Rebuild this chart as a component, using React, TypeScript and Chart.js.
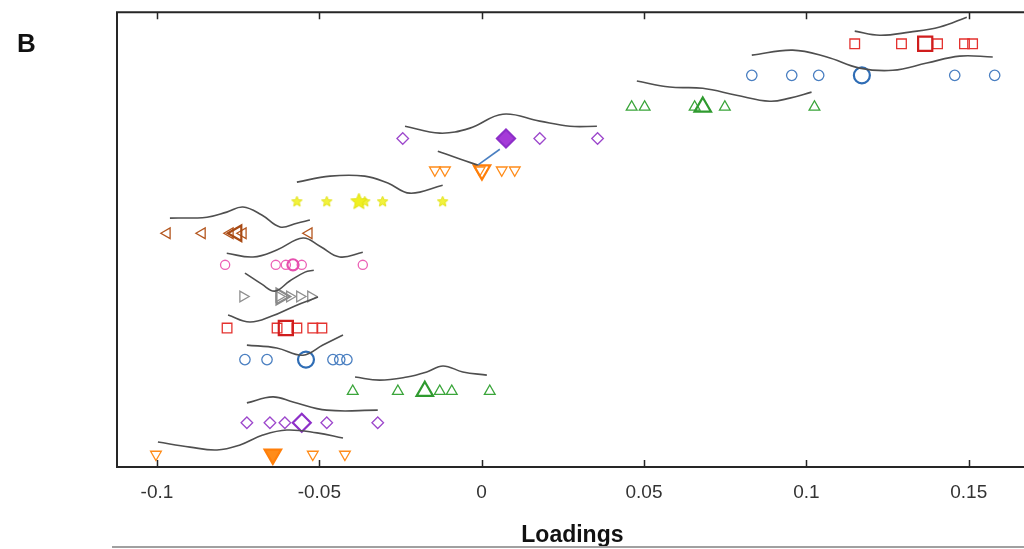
import React, { useEffect, useRef } from "react";
import { Chart, registerables } from "chart.js";

Chart.register(...registerables);

// ---------- axis / labels ----------
const xTicks = [-0.1, -0.05, 0, 0.05, 0.1, 0.15];
const xTickLabels = ["-0.1", "-0.05", "0", "0.05", "0.1", "0.15"];
const xTitle = "Loadings";
const panelLabel = "B";
const xMin = -0.1123;
const xMax = 0.1682;

// ---------- row positions (1 = top row) ----------
const rowPos = [1, 2, 3, 4, 5, 6, 7, 8, 9, 10, 11, 12, 13, 14];

// ---------- individual loadings per row ----------
const r1 = [0.1149, 0.1293, 0.1404, 0.1487, 0.1512];
const r2 = [0.0832, 0.0955, 0.1038, 0.1457, 0.158];
const r3 = [0.0462, 0.0502, 0.0656, 0.0749, 0.1025];
const r4 = [-0.0243, 0.0065, 0.0179, 0.0357];
const r5 = [-0.0144, -0.0113, -0.0006, 0.0062, 0.0102];
const r6 = [-0.0569, -0.0477, -0.036, -0.0305, -0.012];
const r7 = [-0.0969, -0.0861, -0.0775, -0.0735, -0.0532];
const r8 = [-0.079, -0.0634, -0.0603, -0.0554, -0.0366];
const r9 = [-0.0735, -0.0624, -0.0591, -0.056, -0.0526];
const r10 = [-0.0784, -0.063, -0.0569, -0.052, -0.0492];
const r11 = [-0.0729, -0.0661, -0.0458, -0.0437, -0.0415];
const r12 = [-0.0397, -0.0258, -0.0129, -0.0092, 0.0025];
const r13 = [-0.0723, -0.0652, -0.0606, -0.0477, -0.032];
const r14 = [-0.1003, -0.0643, -0.052, -0.0421];

// ---------- mean loading per row (large marker) ----------
const means = [0.1366, 0.1171, 0.0681, 0.0075, 0.0001, -0.0378, -0.0754, -0.0581, -0.0618, -0.0603, -0.0541, -0.0175, -0.0554, -0.0643];

// ---------- gray curves: [loading, row coordinate] ----------
const c1 = [[0.1149, 0.6], [0.1226, 0.73], [0.1318, 0.63], [0.1411, 0.47], [0.1494, 0.16]];
const c2 = [[0.0832, 1.36], [0.0958, 1.2], [0.1063, 1.42], [0.1164, 1.77], [0.1266, 1.84], [0.1371, 1.61], [0.1472, 1.39], [0.1574, 1.42]];
const c3 = [[0.0478, 2.18], [0.0579, 2.37], [0.0681, 2.41], [0.0785, 2.63], [0.0887, 2.82], [0.0949, 2.72], [0.1016, 2.53]];
const c4 = [[-0.0236, 3.61], [-0.0129, 3.83], [-0.0036, 3.67], [0.0065, 3.23], [0.0179, 3.45], [0.0272, 3.61], [0.0355, 3.61]];
const c5 = [[-0.0135, 4.4], [-0.0067, 4.65], [-0.0012, 4.84]];
const c5link = [[-0.0012, 4.84], [0.0056, 4.34]];
const c6 = [[-0.0569, 5.38], [-0.0467, 5.19], [-0.036, 5.19], [-0.0289, 5.41], [-0.0221, 5.73], [-0.012, 5.48]];
const c7 = [[-0.096, 6.52], [-0.0846, 6.49], [-0.0785, 6.33], [-0.0735, 6.17], [-0.0677, 6.42], [-0.0621, 6.8], [-0.0569, 6.68], [-0.0529, 6.58]];
const c8 = [[-0.0785, 7.63], [-0.0704, 7.75], [-0.0631, 7.53], [-0.055, 7.15], [-0.0498, 7.41], [-0.0437, 7.75], [-0.0366, 7.6]];
const c9 = [[-0.0729, 8.26], [-0.0677, 8.61], [-0.0637, 8.83], [-0.0591, 8.51], [-0.0544, 8.23], [-0.0517, 8.17]];
const c10 = [[-0.0781, 9.59], [-0.0714, 9.81], [-0.0646, 9.62], [-0.0575, 9.3], [-0.0504, 9.02]];
const c11 = [[-0.0723, 10.54], [-0.0631, 10.63], [-0.055, 10.86], [-0.0489, 10.54], [-0.0427, 10.22]];
const c12 = [[-0.039, 11.55], [-0.0314, 11.65], [-0.023, 11.55], [-0.0169, 11.39], [-0.0119, 11.2], [-0.0058, 11.39], [0.0016, 11.49]];
const c13 = [[-0.0723, 12.37], [-0.0643, 12.18], [-0.0581, 12.34], [-0.0477, 12.6], [-0.032, 12.6]];
const c14 = [[-0.0997, 13.61], [-0.0898, 13.77], [-0.0815, 13.86], [-0.0744, 13.7], [-0.0674, 13.39], [-0.06, 13.23], [-0.0507, 13.32], [-0.0427, 13.48]];

const rowValues = [r1, r2, r3, r4, r5, r6, r7, r8, r9, r10, r11, r12, r13, r14];
const curves = [c1, c2, c3, c4, c5, c6, c7, c8, c9, c10, c11, c12, c13, c14];

// ---------- styles ----------
type RowStyle = { color: string; large: string; shape: string; rot: number; r: number; R: number; fill?: string };
const styles: RowStyle[] = [
  { color: "#e4322f", large: "#d01d1d", shape: "rect", rot: 0, r: 6.8, R: 10 },
  { color: "#4a7fc1", large: "#2f6db5", shape: "circle", rot: 0, r: 5.2, R: 8 },
  { color: "#3aa53a", large: "#2f9a2f", shape: "triangle", rot: 0, r: 6.2, R: 9.5 },
  { color: "#9d48cc", large: "#8d2fc8", shape: "rectRot", rot: 0, r: 5.8, R: 9, fill: "#a53ad8" },
  { color: "#ff8c1a", large: "#ff7f0a", shape: "triangle", rot: 180, r: 6.2, R: 9.5 },
  { color: "#eeee22", large: "#eaea10", shape: "star", rot: 0, r: 6, R: 9 },
  { color: "#b4561e", large: "#a84a14", shape: "triangle", rot: -90, r: 6.2, R: 9 },
  { color: "#ec62b6", large: "#e64fae", shape: "circle", rot: 0, r: 4.6, R: 5.6 },
  { color: "#8f8f8f", large: "#8a8a8a", shape: "triangle", rot: 90, r: 6.2, R: 9 },
  { color: "#e4322f", large: "#d01d1d", shape: "rect", rot: 0, r: 6.8, R: 10 },
  { color: "#4a7fc1", large: "#2f6db5", shape: "circle", rot: 0, r: 5.2, R: 8 },
  { color: "#3aa53a", large: "#2f9a2f", shape: "triangle", rot: 0, r: 6.2, R: 9.5 },
  { color: "#9d48cc", large: "#8d2fc8", shape: "rectRot", rot: 0, r: 5.8, R: 9 },
  { color: "#ff8c1a", large: "#ff7f0a", shape: "triangle", rot: 180, r: 6.2, R: 9.5, fill: "#ff8c1a" },
];

function makeStar(size: number, fill: string, stroke: string): HTMLCanvasElement {
  const cv = document.createElement("canvas");
  cv.width = size;
  cv.height = size;
  const g = cv.getContext("2d")!;
  const cx = size / 2, cy = size / 2, ro = size / 2 - 1, ri = ro * 0.45;
  g.beginPath();
  for (let i = 0; i < 10; i++) {
    const a = -Math.PI / 2 + (i * Math.PI) / 5;
    const rr = i % 2 === 0 ? ro : ri;
    const px = cx + rr * Math.cos(a), py = cy + rr * Math.sin(a);
    if (i === 0) g.moveTo(px, py); else g.lineTo(px, py);
  }
  g.closePath();
  g.fillStyle = fill;
  g.fill();
  g.strokeStyle = stroke;
  g.lineWidth = 1;
  g.stroke();
  return cv;
}

const framePlugin = {
  id: "frame",
  afterDatasetsDraw(chart: any) {
    const { ctx, chartArea } = chart;
    const { left, right, top, bottom } = chartArea;
    const x = chart.scales.x;
    ctx.save();
    ctx.strokeStyle = "#262626";
    ctx.lineWidth = 2;
    ctx.beginPath();
    ctx.moveTo(right + 20, top);
    ctx.lineTo(left, top);
    ctx.lineTo(left, bottom);
    ctx.lineTo(right + 20, bottom);
    ctx.stroke();
    ctx.lineWidth = 1.5;
    ctx.beginPath();
    for (const v of xTicks) {
      const px = Math.round(x.getPixelForValue(v)) + 0.5;
      ctx.moveTo(px, bottom);
      ctx.lineTo(px, bottom - 7);
      ctx.moveTo(px, top);
      ctx.lineTo(px, top + 7);
    }
    ctx.stroke();
    ctx.fillStyle = "#111";
    ctx.font = 'bold 26px "Liberation Sans", Arial, sans-serif';
    ctx.textBaseline = "alphabetic";
    ctx.fillText(panelLabel, 17, 52);
    ctx.strokeStyle = "#a0a0a0";
    ctx.lineWidth = 2;
    ctx.beginPath();
    ctx.moveTo(112, 547);
    ctx.lineTo(1040, 547);
    ctx.stroke();
    ctx.restore();
  },
};

export default function App() {
  const ref = useRef<HTMLCanvasElement | null>(null);

  useEffect(() => {
    if (!ref.current) return;
    const datasets: any[] = [];
    rowValues.forEach((vals, i) => {
      const s = styles[i];
      const y = rowPos[i];
      const isStar = s.shape === "star";
      datasets.push({
        type: "scatter",
        data: vals.map((v) => ({ x: v, y })),
        pointStyle: isStar ? makeStar(13, "#f2f23c", "#e2e21a") : s.shape,
        rotation: s.rot,
        pointRadius: s.r,
        borderColor: s.color,
        backgroundColor: "rgba(0,0,0,0)",
        pointBorderWidth: 1.3,
        showLine: false,
        order: 3,
      });
      datasets.push({
        type: "scatter",
        data: [{ x: means[i], y }],
        pointStyle: isStar ? makeStar(19, "#f0f020", "#e0e010") : s.shape,
        rotation: s.rot,
        pointRadius: s.R,
        borderColor: s.large,
        backgroundColor: s.fill ? s.fill : "rgba(0,0,0,0)",
        pointBorderWidth: 2.2,
        showLine: false,
        order: 2,
      });
    });
    curves.forEach((c) => {
      datasets.push({
        type: "line",
        data: c.map((p) => ({ x: p[0], y: p[1] })),
        borderColor: "#4f4f4f",
        borderWidth: 1.6,
        pointRadius: 0,
        tension: 0.4,
        fill: false,
        order: 1,
      });
    });
    datasets.push({
      type: "line",
      data: c5link.map((p) => ({ x: p[0], y: p[1] })),
      borderColor: "#4a7fc1",
      borderWidth: 1.6,
      pointRadius: 0,
      fill: false,
      order: 1,
    });

    const chart = new Chart(ref.current, {
      type: "scatter",
      data: { datasets },
      plugins: [framePlugin],
      options: {
        responsive: false,
        devicePixelRatio: 1,
        animation: false,
        layout: { padding: { left: 0, right: 4, top: 12, bottom: 0 } },
        plugins: { legend: { display: false }, tooltip: { enabled: false } },
        scales: {
          x: {
            type: "linear",
            min: xMin,
            max: xMax,
            afterBuildTicks: (sc: any) => {
              sc.ticks = xTicks.map((v) => ({ value: v }));
            },
            afterFit: (sc: any) => {
              sc.height = 82;
            },
            grid: { display: false, drawTicks: false },
            border: { display: false },
            ticks: {
              autoSkip: false,
              maxRotation: 0,
              padding: 14,
              color: "#333333",
              font: { family: '"Liberation Sans", Arial, sans-serif', size: 19 },
              callback: (v: any) => {
                const idx = xTicks.findIndex((t) => Math.abs(t - Number(v)) < 1e-9);
                return idx >= 0 ? xTickLabels[idx] : "";
              },
            },
            title: {
              display: true,
              text: xTitle,
              color: "#111111",
              font: { family: '"Liberation Sans", Arial, sans-serif', size: 23, weight: "bold" },
              padding: { top: 0, bottom: 0 },
            },
          },
          y: {
            type: "linear",
            reverse: true,
            min: 0,
            max: 14.4,
            afterFit: (sc: any) => {
              sc.width = 117;
            },
            grid: { display: false },
            border: { display: false },
            ticks: { display: false },
          },
        },
      },
    } as any);
    return () => chart.destroy();
  }, []);

  return (
    <div style={{ position: "fixed", left: 0, top: 0, width: 1024, height: 549, overflow: "hidden", background: "#fff" }}>
      <canvas ref={ref} width={1040} height={549} style={{ display: "block", width: 1040, height: 549 }} />
    </div>
  );
}
